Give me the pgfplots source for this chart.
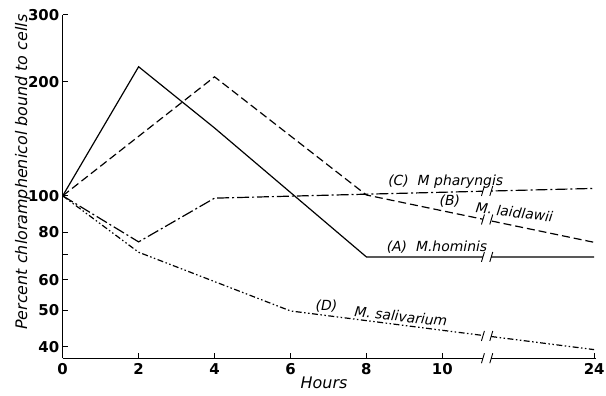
\documentclass[border=0pt]{standalone}
\usepackage{pgfplots}
\pgfplotsset{compat=1.18}
\usepackage{fontspec}
\setmainfont{DejaVu Sans}
\pgfplotstableread{
x y
0 100
2 219
4 151
8 69
14 69
}\tabA
\pgfplotstableread{
x y
0 100
4 206
8 100.5
14 75.4
}\tabB
\pgfplotstableread{
x y
0 100
2 75.6
4 98.6
8 101
14 104.6
}\tabC
\pgfplotstableread{
x y
0 100
2 71
6 49.7
14 39.3
}\tabD
\newcommand\brk[1]{%
  \fill[white] ([yshift=-6pt]axis cs:11.07,#1) rectangle ([yshift=6pt]axis cs:11.29,#1);
  \draw[line width=0.9pt] ([xshift=-1.5pt,yshift=-5pt]axis cs:11.07,#1) -- ([xshift=1.5pt,yshift=5pt]axis cs:11.07,#1);
  \draw[line width=0.9pt] ([xshift=-1.5pt,yshift=-5pt]axis cs:11.29,#1) -- ([xshift=1.5pt,yshift=5pt]axis cs:11.29,#1);
}
\begin{document}
\begin{tikzpicture}
\useasboundingbox (-63pt,-37pt) rectangle (546pt,360pt);
\begin{axis}[
  at={(0,0)}, anchor=south west,
  width=536pt, height=345pt, scale only axis,
  xmin=0, xmax=14.05, ymode=log, ymin=37.3, ymax=300,
  axis x line*=bottom, axis y line*=left,
  axis line style={line width=1.3pt, -},
  xtick={0,2,4,6,8,10,14}, xticklabels={0,2,4,6,8,10,24},
  ytick={40,50,60,70,80,100,200,300}, yticklabels={40,50,60,,80,100,200,300},
  minor y tick style={draw=none},
  tick style={black, line width=0.9pt},
  major tick length=5pt,
  /pgf/number format/assume math mode=true,
  tick label style={font=\fontsize{15}{15}\selectfont\bfseries},
  xticklabel style={yshift=-2pt},
  xlabel={Hours}, ylabel={Percent chloramphenicol bound to cells},
  xlabel style={font=\fontsize{16}{16}\selectfont\itshape, at={(axis description cs:0.49,0)}, anchor=center, yshift=-25pt},
  ylabel style={font=\fontsize{16}{16}\selectfont\itshape, at={(axis description cs:-0.075,0.542)}, anchor=center, rotate=0},
  clip=false,
]
\addplot[black, mark=none, solid, line width=1.2pt] table[x=x,y=y] {\tabA};
\addplot[black, mark=none, line width=1.2pt, dash pattern=on 8pt off 4pt] table[x=x,y=y] {\tabB};
\addplot[black, mark=none, line width=1.2pt, dash pattern=on 12pt off 3pt on 2pt off 3pt] table[x=x,y=y] {\tabC};
\addplot[black, mark=none, line width=1.2pt, dash pattern=on 6pt off 2.5pt on 1.5pt off 2.5pt on 1.5pt off 2.5pt] table[x=x,y=y] {\tabD};
\brk{69}
\brk{86.6}
\brk{103}
\brk{42.7}
\brk{37.3}
\node[font=\fontsize{14}{14}\selectfont\itshape] at (axis cs:10.09,109) {(C)\ \ M pharyngis};
\node[font=\fontsize{14}{14}\selectfont\itshape] at (axis cs:10.2,97) {(B)};
\node[font=\fontsize{14}{14}\selectfont\itshape, rotate=-7] at (axis cs:11.9,90.6) {M. laidlawii};
\node[font=\fontsize{14}{14}\selectfont\itshape] at (axis cs:9.86,73.4) {(A)\ \ M.hominis};
\node[font=\fontsize{14}{14}\selectfont\itshape] at (axis cs:6.95,51.1) {(D)};
\node[font=\fontsize{14}{14}\selectfont\itshape, rotate=-6] at (axis cs:8.91,48.1) {M. salivarium};
\end{axis}
\end{tikzpicture}
\end{document}
